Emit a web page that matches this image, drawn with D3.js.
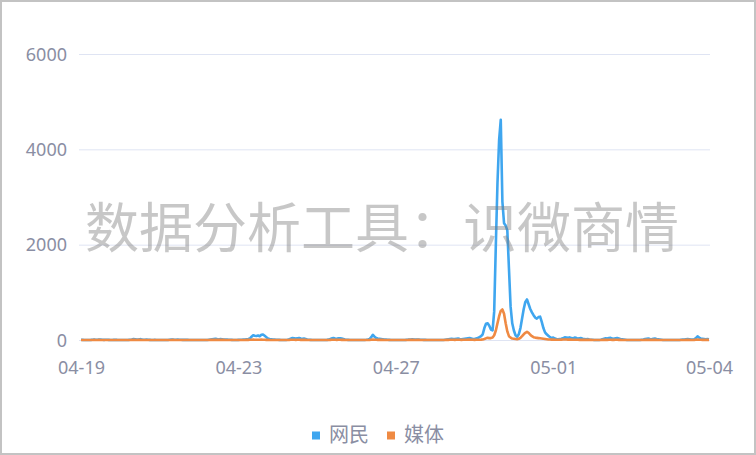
<!DOCTYPE html>
<html><head><meta charset="utf-8">
<script src="https://cdn.jsdelivr.net/npm/d3@7/dist/d3.min.js"></script>
<style>
html,body{margin:0;padding:0;background:#fff;}
svg{display:block;}
text{font-family:"Noto Sans","Noto Sans CJK SC",sans-serif;}
</style></head>
<body>
<svg id="c" width="756" height="455"></svg>
<script>
// hourly data 04-19 00:00 .. 05-04 23:00 (one row per day)
const netizens = [
  5,3,0,0,0,0,2,5,8,4,6,10,8,5,3,6,4,2,0,0,3,5,2,0,
  0,0,0,0,0,2,6,12,20,15,8,10,18,12,6,4,8,5,3,0,0,2,0,0,
  0,0,0,0,0,0,4,8,10,6,4,8,6,4,2,2,4,2,0,0,0,0,0,0,
  0,0,0,0,0,0,5,10,15,20,25,18,12,20,15,10,8,12,6,4,2,0,0,0,
  2,4,6,10,8,15,20,30,70,100,90,85,95,80,110,115,90,60,30,20,15,10,8,5,
  4,2,0,0,0,0,5,15,30,40,35,30,38,42,30,25,30,20,10,5,3,0,0,0,
  0,0,0,0,0,0,3,8,20,35,40,30,25,35,38,30,20,10,6,3,0,0,0,0,
  0,0,0,0,0,0,4,10,20,60,110,70,40,30,25,20,15,10,8,5,3,0,0,0,
  0,0,0,0,0,0,2,6,10,12,15,10,8,12,10,6,4,3,2,0,0,0,0,0,
  0,0,0,0,0,0,5,10,15,20,25,20,18,25,30,20,15,20,25,30,35,40,30,20,
  20,30,40,60,80,120,250,340,350,300,220,200,600,2000,3300,4200,4620,2900,2450,2400,2300,1500,700,350,
  200,100,70,120,250,450,650,800,850,750,650,580,520,470,450,480,490,380,250,160,120,90,60,40,
  50,30,20,15,20,25,40,55,50,45,55,40,35,50,45,30,35,40,25,20,15,20,10,5,
  5,0,0,0,0,5,15,25,35,30,40,45,30,25,35,40,30,20,15,10,5,0,0,0,
  0,0,0,0,0,0,5,10,20,25,30,20,15,25,30,20,15,10,5,0,0,0,0,0,
  0,0,0,0,0,0,4,8,10,15,20,15,10,8,15,40,75,50,30,25,20,15,20,15
];
const media = [
  0,0,0,0,0,0,0,1,2,1,1,2,1,0,0,1,0,0,0,0,0,0,0,0,
  0,0,0,0,0,0,1,2,3,2,1,2,2,1,1,0,1,0,0,0,0,0,0,0,
  0,0,0,0,0,0,0,1,2,1,1,1,1,0,0,0,0,0,0,0,0,0,0,0,
  0,0,0,0,0,0,1,2,3,3,4,3,2,3,2,2,1,1,0,0,0,0,0,0,
  0,0,1,1,1,2,3,4,6,8,6,5,6,5,7,6,5,3,2,1,1,0,0,0,
  0,0,0,0,0,0,1,2,4,5,4,3,4,5,3,3,3,2,1,0,0,0,0,0,
  0,0,0,0,0,0,0,1,3,4,5,4,3,4,4,3,2,1,0,0,0,0,0,0,
  0,0,0,0,0,0,0,1,3,6,10,6,4,3,3,2,2,1,1,0,0,0,0,0,
  0,0,0,0,0,0,0,1,2,2,3,2,1,2,2,1,1,0,0,0,0,0,0,0,
  0,0,0,0,0,0,1,2,3,4,5,4,3,4,5,4,3,4,5,6,7,8,6,4,
  3,4,5,6,8,12,20,35,45,40,40,50,100,200,350,500,610,640,550,350,180,80,50,30,
  25,20,15,25,45,80,120,150,170,150,110,80,60,50,45,40,35,30,25,20,15,10,10,8,
  8,6,5,5,6,8,10,12,10,8,10,8,6,5,4,4,3,3,2,2,2,2,2,2,
  1,0,0,0,0,1,2,3,4,3,4,5,3,3,4,4,3,2,1,1,0,0,0,0,
  0,0,0,0,0,0,1,1,2,3,3,2,2,3,3,2,1,1,0,0,0,0,0,0,
  0,0,0,0,0,0,0,1,1,2,2,2,1,1,2,4,8,6,4,3,2,2,2,2
];
const yTicks = [0, 2000, 4000, 6000];
const xTickIdx = [0, 96, 192, 288, 383];
const xTickLabels = ["04-19", "04-23", "04-27", "05-01", "05-04"];
const seriesNames = ["网民", "媒体"];
const colors = ["#3fa6ef", "#ef8a43"];
const watermark = "数据分析工具：识微商情";

const svg = d3.select("#c");
const x = d3.scaleLinear().domain([0, netizens.length - 1]).range([81, 709]);
const y = d3.scaleLinear().domain([0, 6000]).range([340, 54]);

// frame
svg.append("rect").attr("x",1).attr("y",1).attr("width",754).attr("height",453)
  .attr("fill","none").attr("stroke","#c3c3c3").attr("stroke-width",2);

// grid
svg.append("g").selectAll("line").data(yTicks).join("line")
  .attr("x1",79).attr("x2",710).attr("y1",d=>y(d)+0.5).attr("y2",d=>y(d)+0.5)
  .attr("stroke","#dfe4f3").attr("stroke-width",1);

// y labels
const yAxis = d3.axisLeft(y).tickValues(yTicks).tickSize(0).tickPadding(0).tickFormat(d3.format("d"));
const ya = svg.append("g").attr("transform","translate(67,0)").call(yAxis);
ya.select(".domain").remove();
ya.selectAll("text").attr("fill","#8a8ea3").style("font-size","18px").attr("dy","0.35em");

// x labels
const xAxis = d3.axisBottom(x).tickValues(xTickIdx).tickSize(0).tickPadding(0)
  .tickFormat((d,i)=>xTickLabels[i]);
const xa = svg.append("g").attr("transform","translate(0,374)").call(xAxis);
xa.select(".domain").remove();
xa.selectAll("text").attr("fill","#8a8ea3").style("font-size","18px").attr("dy","0");

// lines
const line = d3.line().x((d,i)=>x(i)).y(d=>y(d)).curve(d3.curveLinear);
[netizens, media].forEach((s,k)=>{
  svg.append("path").datum(s).attr("d",line).attr("fill","none")
    .attr("stroke",colors[k]).attr("stroke-width",2.6).attr("stroke-linejoin","round");
});

// watermark
svg.append("text").attr("x",382).attr("y",248).attr("text-anchor","middle")
  .style("font-family","'Noto Sans CJK SC'").style("font-size","54px")
  .attr("fill","#7a7a7a").attr("fill-opacity",0.42).text(watermark);

// legend
const lg = svg.append("g");
const lx = [312, 387];
seriesNames.forEach((n,k)=>{
  lg.append("rect").attr("x",lx[k]).attr("y",431.5).attr("width",8).attr("height",8).attr("fill",colors[k]);
  lg.append("text").attr("x",lx[k]+17).attr("y",442).attr("fill","#8a8ea3")
    .style("font-family","'Noto Sans CJK SC'").style("font-size","20px").text(n);
});
</script>
</body></html>
